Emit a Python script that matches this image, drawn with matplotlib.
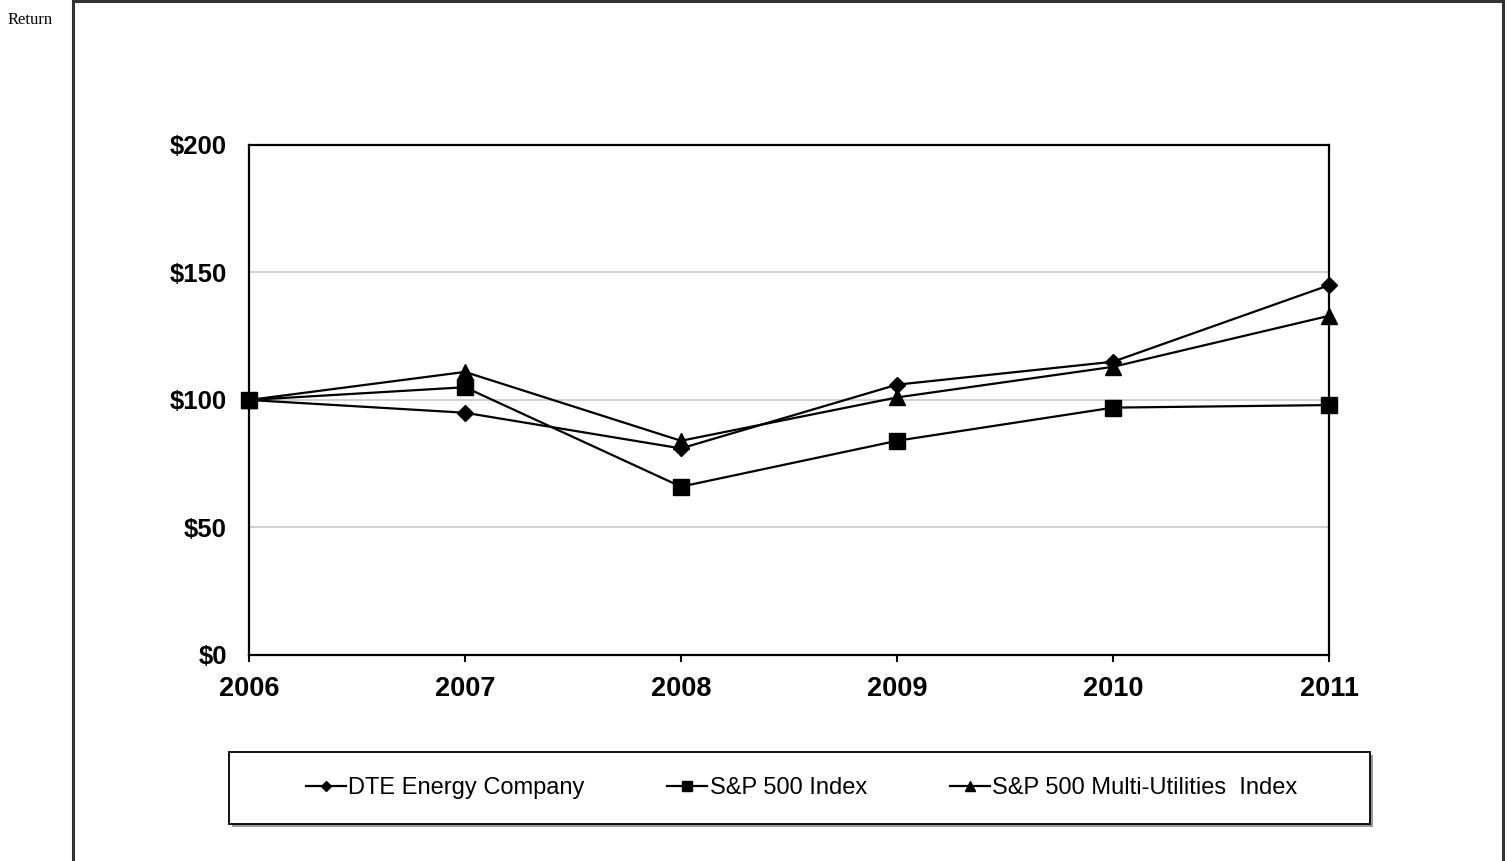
import matplotlib.pyplot as plt
from matplotlib.patches import Rectangle

years = [2006, 2007, 2008, 2009, 2010, 2011]
dte = [100, 95, 81, 106, 115, 145]
sp500 = [100, 105, 66, 84, 97, 98]
multi_util = [100, 111, 84, 101, 113, 133]

fig = plt.figure(figsize=(15.08, 8.61), dpi=100)

# внешняя рамка
fig.patches.append(Rectangle((0.0484, -0.01), 0.9483, 1.0088, transform=fig.transFigure,
                             fill=False, edgecolor='#333333', linewidth=2.2))
fig.text(0.0053, 0.977, 'Return', family='Liberation Serif', fontsize=12, va='center', ha='left')

ax = fig.add_axes([0.1651, 0.2393, 0.7162, 0.5923])
ax.plot(years, dte, color='black', linewidth=1.6, marker='D', markersize=8, label='DTE Energy Company')
ax.plot(years, sp500, color='black', linewidth=1.6, marker='s', markersize=11.5, label='S&P 500 Index')
ax.plot(years, multi_util, color='black', linewidth=1.6, marker='^', markersize=11, label='S&P 500 Multi-Utilities  Index')

ax.set_xlim(2006, 2011)
ax.set_ylim(0, 200)
ax.set_yticks([0, 50, 100, 150, 200])
ax.set_yticklabels(['$0', '$50', '$100', '$150', '$200'])
ax.set_xticks(years)
ax.grid(axis='y', color='#c8c8c8', linewidth=1.2)
ax.set_axisbelow(True)
for sp in ax.spines.values():
    sp.set_linewidth(1.6)
ax.tick_params(axis='y', length=0, pad=16)
ax.tick_params(axis='x', length=5, width=1.5, direction='out', pad=10)
for lbl in ax.get_yticklabels():
    lbl.set_fontfamily('Liberation Sans')
    lbl.set_fontweight('bold')
    lbl.set_fontsize(18.5)
for lbl in ax.get_xticklabels():
    lbl.set_fontfamily('Liberation Sans')
    lbl.set_fontweight('bold')
    lbl.set_fontsize(19.5)
for line in ax.lines:
    line.set_clip_on(False)

# рамка легенды с тенью
bx, by, bw, bh = 229 / 1508, 1 - 824 / 861, (1370 - 229) / 1508, 72 / 861
fig.patches.append(Rectangle((bx + 3 / 1508, by - 3 / 861), bw, bh, transform=fig.transFigure,
                             facecolor='#999999', edgecolor='none'))
fig.patches.append(Rectangle((bx, by), bw, bh, transform=fig.transFigure,
                             facecolor='white', edgecolor='black', linewidth=1.3))

leg = fig.legend(loc='center', bbox_to_anchor=(bx + bw / 2 + 2 / 1508, by + bh / 2), ncol=3,
                 prop={'family': 'Liberation Sans', 'size': 17}, markerscale=0.6,
                 handlelength=1.7, handletextpad=0.1, columnspacing=3.5, frameon=False)

fig.savefig('out.png', dpi=100)
